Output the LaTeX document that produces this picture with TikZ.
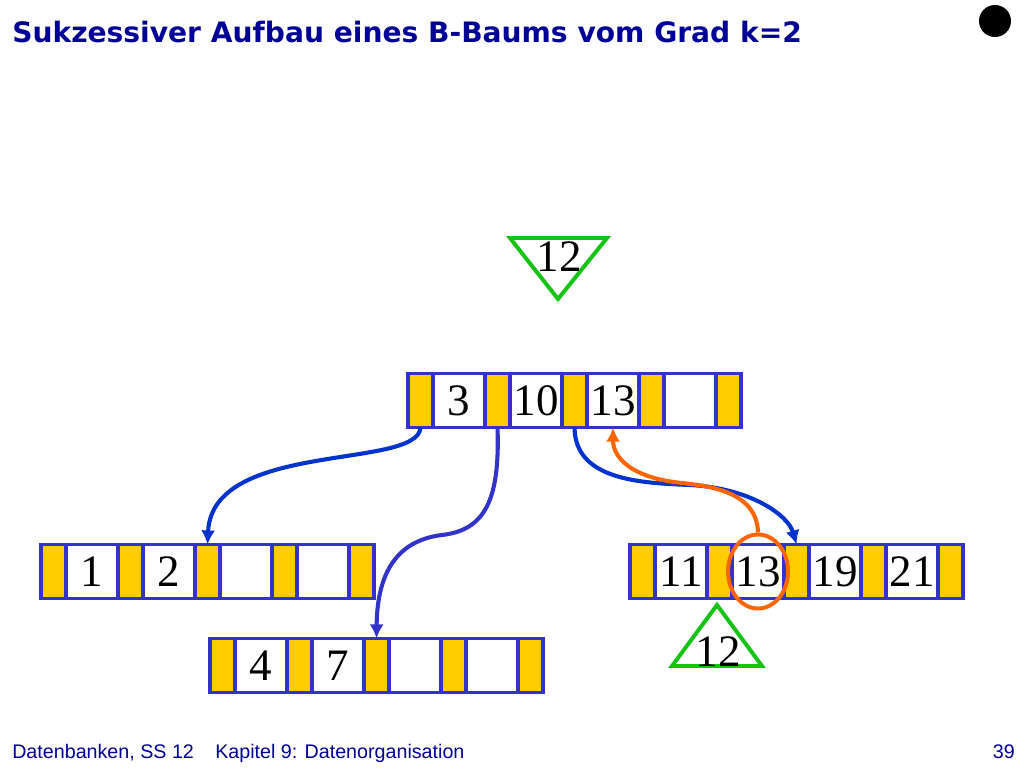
\documentclass[tikz,border=0pt]{standalone}
\usepackage{fontspec}
\setmainfont{Liberation Serif}
\newfontfamily\titlefont{DejaVu Sans}
\newfontfamily\footfont{Liberation Sans}
\usepackage{xcolor}
\usetikzlibrary{arrows.meta,positioning,shapes.geometric}

\definecolor{cellblue}{RGB}{51,51,204}
\definecolor{ptryellow}{RGB}{255,204,0}
\definecolor{linkblue}{RGB}{0,51,204}
\definecolor{markorange}{RGB}{255,102,0}
\definecolor{markgreen}{RGB}{20,195,20}
\definecolor{titleblue}{RGB}{0,0,150}

\tikzset{
  cell/.style={draw=cellblue, line width=2.6pt, inner sep=0pt, outer sep=0pt,
               minimum height=1.35cm, font=\fontsize{32}{32}\selectfont},
  ptrcell/.style={cell, fill=ptryellow, minimum width=0.625cm},
  keycell/.style={cell, fill=white, minimum width=1.3cm},
  link/.style={line width=2.9pt, -{Latex[length=10pt,width=10pt]}},
  marktri/.style={draw=markgreen, line width=2.8pt, line join=miter},
  keylabel/.style={inner sep=0pt, font=\fontsize{32}{32}\selectfont}
}

% one B-tree page: name, x of first pointer, y, four keys
\newcommand{\bpage}[7]{%
  \node[ptrcell] (#1-p1) at (#2,#3) {};
  \node[keycell, right=0pt of #1-p1] (#1-k1) {#4};
  \node[ptrcell, right=0pt of #1-k1] (#1-p2) {};
  \node[keycell, right=0pt of #1-p2] (#1-k2) {#5};
  \node[ptrcell, right=0pt of #1-k2] (#1-p3) {};
  \node[keycell, right=0pt of #1-p3] (#1-k3) {#6};
  \node[ptrcell, right=0pt of #1-k3] (#1-p4) {};
  \node[keycell, right=0pt of #1-p4] (#1-k4) {#7};
  \node[ptrcell, right=0pt of #1-k4] (#1-p5) {};
}

\begin{document}
\begin{tikzpicture}[x=0.025cm, y=-0.025cm]
\useasboundingbox (0,0) rectangle (1024,768);

% Title and marker dot
\node[anchor=base west, inner sep=0pt, text=titleblue,
      font=\titlefont\bfseries\fontsize{20}{22}\selectfont] (title) at (12,43)
      {Sukzessiver Aufbau eines B-Baums vom Grad k=2};
\fill (995,21) circle (16);

% Drawing pages
\bpage{root}{420.5}{400.5}{3}{10}{13}{}
\bpage{leafa}{53.5}{571.5}{1}{2}{}{}
\bpage{leafb}{222.5}{665.5}{4}{7}{}{}
\bpage{leafc}{642.5}{571.5}{11}{13}{19}{21}

% Drawing links from the root
\draw[link, linkblue] (root-p1.south) .. controls (418,470) and (212,440) .. (leafa-p3.north);
\draw[link, cellblue] (root-p2.south) .. controls (500,500) and (485,530) .. (442,535)
      .. controls (392,541) and (377,580) .. (leafb-p3.north);
\draw[link, linkblue] (root-p3.south) .. controls (575,480) and (640,483) .. (690,485)
      .. controls (750,488) and (788,515) .. (leafc-p3.north);

% Marking key 13 and moving it up
\node[ellipse, draw=markorange, line width=2.8pt, minimum width=1.5cm,
      minimum height=1.85cm, inner sep=0pt] (mark) at (leafc-k2) {};
\draw[link, markorange] (mark.north) .. controls (757,492) and (710,486) .. (682,483)
      .. controls (632,478) and (613,458) .. (root-k3.south);

% Drawing triangle with new key (top)
\draw[marktri] (510,238) -- (607,238) -- (558,299) -- cycle;
\node[keylabel] (newkey) at (559,257) {12};

% Drawing triangle with new key (bottom)
\draw[marktri] (672,666) -- (762,666) -- (717,605) -- cycle;
\node[keylabel] (oldkey) at (718,652) {12};

% Footer
\node[anchor=base west, inner sep=0pt, text=titleblue,
      font=\footfont\fontsize{14}{16}\selectfont] (lecture) at (12,758) {Datenbanken, SS 12};
\node[anchor=base west, inner sep=0pt, text=titleblue,
      font=\footfont\fontsize{14}{16}\selectfont] (chapter) at (215,758) {Kapitel 9: Datenorganisation};
\node[anchor=base east, inner sep=0pt, text=titleblue,
      font=\footfont\fontsize{14}{16}\selectfont] (page) at (1015,758) {39};
\end{tikzpicture}
\end{document}
